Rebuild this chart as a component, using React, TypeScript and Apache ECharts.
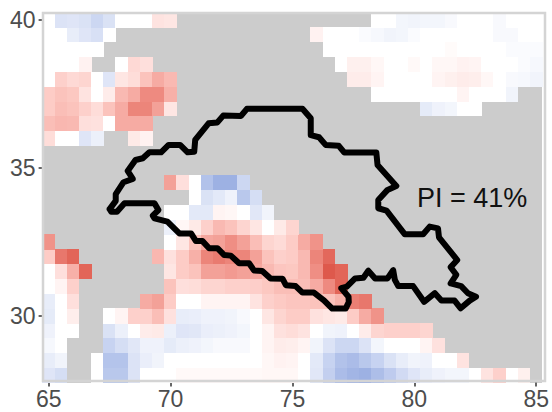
import React, { useEffect, useRef } from "react";
import * as echarts from "echarts";

const N = null;
const N5 = [N, N, N, N, N];

// intensity per cell, one row per latitude; columns run from 65E to 85E in 0.5 degree steps
const lonLabels = ["65","65.5","66","66.5","67","67.5","68","68.5","69","69.5","70","70.5","71","71.5","72","72.5","73","73.5","74","74.5","75","75.5","76","76.5","77","77.5","78","78.5","79","79.5","80","80.5","81","81.5","82","82.5","83","83.5","84","84.5","85"];
const latLabels = ["28","28.5","29","29.5","30","30.5","31","31.5","32","32.5","33","33.5","34","34.5","35","35.5","36","36.5","37","37.5","38","38.5","39","39.5","40"];

const lat40 = [0,-15,-14,-16,-22, -16,0,0,0,13, 12,N,N,N,N, ...N5, ...N5, N,N,0,0,-5, -6,-5,-5,-3,0, 0,0,-3,0,0, 0];
const lat39_5 = [0,0,-10,-14,-17, 0,N,N,N,N, ...N5, ...N5, N,N,6,0,0, 0,-2,-4,-6,-5, -2,0,0,0,0, 0,0,-3,-3,0, 0];
const lat39 = [0,0,0,0,0, ...N5, ...N5, ...N5, N,N,N,0,0, 0,0,0,0,0, 0,0,0,2,0, 0,0,0,-2,-2, -2];
const lat38_5 = [0,0,0,6,N, N,0,18,15,N, ...N5, ...N5, N,N,N,N,0, 7,7,4,0,0, 3,0,4,4,6, 5,0,0,0,-2, -4];
const lat38 = [0,22,18,20,0, -14,12,16,28,38, 32,N,N,N,N, ...N5, ...N5, 9,9,5,0,0, 0,0,5,7,9, 8,4,0,-3,-4, -6];
const lat37_5 = [24,28,26,13,0, 9,32,38,52,52, 36,N,N,N,N, ...N5, ...N5, N,N,0,0,0, 0,0,0,0,5, 0,0,0,-6];
const lat37 = [24,30,28,22,16, 28,38,55,55,42, 12,N,N,N,N, ...N5, ...N5, ...N5, N,-11,-7,-5,0, 0];
const lat36_5 = [30,33,32,15,14, 0,38,38,38];
const lat36 = [16,0,0,-14,-8, N,N,10,6];
const lat35_5: (number | null)[] = [];
const lat35: (number | null)[] = [];
const lat34_5 = [...N5, ...N5, 42,15,0,-33,-42, -42,-22];
const lat34 = [...N5, ...N5, N,N,0,-16,-12, -7,-30,-18];
const lat33_5 = [...N5, ...N5, 0,0,-12,-12,5, 4,0,-13,-6];
const lat33 = [...N5, ...N5, -8,4,10,22,32, 28,20,12,0,10, 20];
const lat32_5 = [48,N,N,N,N, ...N5, 0,12,28,40,42, 50,42,30,20,17, 24,38,48];
const lat32 = [24,62,72,N,N, N,N,N,N,33, 14,24,36,55,60, 55,55,42,28,22, 24,32,55,70];
const lat31_5 = [0,15,36,72,N, ...N5, 12,24,28,42,42, 45,42,40,32,27, 26,32,50,78,72];
const lat31 = [0,5,22,N,N, ...N5, 28,15,16,20,20, 22,22,23,26,30, 30,30,38,52,72];
const lat30_5 = [-10,0,15,N,N, N,N,N,38,42, 24,0,0,5,5, 5,5,13,22,25, 27,27,28,28,35, 58,62];
const lat30 = [-11,0,8,N,N, 0,5,22,22,30, 14,-10,-9,-7,-7, -6,-3,0,12,20, 24,24,14,12,10, 24,38,48];
const lat29_5 = [-7,0,0,N,N, -16,-8,0,9,10, -8,-14,-13,-9,-8, -7,-5,0,5,14, 16,13,0,-6,-7, 0,9,20,22,22, 22,20];
const lat29 = [-4,0,N,N,N, -24,-18,-13,-7,-7, -11,-8,-7,-5,-3, -3,-3,0,5,9, 8,5,-6,-15,-22, -22,-15,-5,0,0, 0,5,14];
const lat28_5 = [-10,-6,N,N,0, -32,-32,-15,-9,-6, 0,0,0,0,0, 0,0,0,4,6, 5,0,-12,-24,-33, -36,-30,-24,-16,-10, -6,-7,0,0,13];
const lat28 = [-14,-18,N,N,0, -30,-30,-15,0,0, 0,3,3,3,3, 3,3,3,4,4, 4,0,-13,-26,-36, -40,-42,-35,-28,-20, -14,-10,-7,-5,-5, 0,13,22,0,7];

const rows = [lat28, lat28_5, lat29, lat29_5, lat30, lat30_5, lat31, lat31_5, lat32, lat32_5, lat33, lat33_5, lat34, lat34_5, lat35, lat35_5, lat36, lat36_5, lat37, lat37_5, lat38, lat38_5, lat39, lat39_5, lat40];

// boundary outline, [lon, lat]
const boundary = [
  [67.5,33.61],[67.75,33.89],[67.75,34.12],[68.07,34.52],[68.45,34.63],[68.24,34.9],[68.56,35.27],[68.86,35.33],[69.13,35.53],[69.61,35.53],
  [69.92,35.78],[70.39,35.78],[70.7,35.53],[70.97,35.55],[71.01,35.95],[71.56,36.51],[71.92,36.54],[72.16,36.77],[72.89,36.76],[73.13,37],
  [75.41,37],[75.75,36.68],[75.75,36.11],[76.09,36.04],[76.36,35.78],[76.9,35.75],[77.13,35.52],[78.44,35.52],[78.49,35.1],[79.26,34.39],
  [78.9,34.26],[78.52,33.92],[78.52,33.64],[78.86,33.56],[79.61,32.76],[80.36,32.76],[80.63,33.02],[80.97,32.96],[81.01,32.66],[81.76,31.89],
  [81.49,31.65],[81.72,31.39],[81.49,31.1],[81.92,31.01],[82.2,30.77],[82.53,30.65],[82.27,30.52],[81.9,30.26],[81.65,30.52],[81.11,30.52],
  [80.84,30.77],[80.4,30.48],[79.95,31.01],[79.34,31.01],[79.2,31.22],[79.13,31.55],[78.9,31.27],[78.39,31.27],[78.11,31.53],[77.91,31.29],
  [77.57,31.27],[77.23,30.99],[77,30.94],[77.3,30.65],[77.31,30.47],[77.18,30.25],[76.63,30.25],[76.29,30.53],[75.88,30.79],[75.41,30.79],
  [75.13,31.01],[74.73,31.04],[74.59,31.26],[74.1,31.27],[73.76,31.52],[73.42,31.54],[73.22,31.78],[72.81,31.78],[72.47,32.04],[72.2,32.06],
  [71.92,32.29],[71.58,32.29],[71.31,32.53],[71.04,32.53],[70.84,32.79],[70.36,32.79],[69.87,33.19],[69.34,33.3],[69.27,33.39],[69.5,33.58],
  [69.34,33.81],[68.11,33.81],[67.8,33.52],[67.57,33.52],[67.5,33.61],
];

const annotation = "PI = 41%";

const rampColors = ["#2c55b8", "#5a7bcb", "#8aa2dd", "#c5d1f0", "#ffffff", "#fdcac4", "#ef8e84", "#e05f52", "#cc2f20"];
const labelColor = "#4d4d4d";
const fontFamily = "'Liberation Sans', Arial, sans-serif";

export default function App() {
  const ref = useRef<HTMLDivElement>(null);
  useEffect(() => {
    const chart = echarts.init(ref.current!, null, { renderer: "svg" });
    const cells: [number, number, number][] = [];
    rows.forEach((row, y) => row.forEach((v, x) => { if (v !== null && v !== undefined) cells.push([x, y, v]); }));
    const showLon = (i: number) => i % 10 === 0;
    const showLat = (i: number) => (i + 6) % 10 === 0 && i >= 4;
    const gridBox = { left: 42.6, top: 12.6, width: 502.2, height: 370 };
    chart.setOption({
      animation: false,
      grid: { ...gridBox, show: true, backgroundColor: "#cccccc", borderWidth: 0 },
      visualMap: {
        show: false, min: -100, max: 100, seriesIndex: 0, dimension: 2,
        inRange: { color: rampColors },
      },
      xAxis: [
        {
          type: "category", data: lonLabels, position: "bottom",
          axisLine: { show: false },
          axisTick: { show: true, interval: showLon, alignWithLabel: true, length: 4, lineStyle: { color: "#333333", width: 1.5 } },
          axisLabel: { interval: showLon, color: labelColor, fontSize: 23, fontFamily, margin: 5 },
          splitLine: { show: false },
        },
        { type: "value", min: 64.75, max: 85.25, show: false, splitLine: { show: false } },
      ],
      yAxis: [
        {
          type: "category", data: latLabels, position: "left",
          axisLine: { show: false },
          axisTick: { show: true, interval: showLat, alignWithLabel: true, length: 4, lineStyle: { color: "#333333", width: 1.5 } },
          axisLabel: { interval: showLat, color: labelColor, fontSize: 23, fontFamily, margin: 7 },
          splitLine: { show: false },
        },
        { type: "value", min: 27.75, max: 40.25, show: false, splitLine: { show: false } },
      ],
      series: [
        { type: "heatmap", data: cells, xAxisIndex: 0, yAxisIndex: 0, itemStyle: { borderWidth: 0 }, emphasis: { disabled: true } },
        {
          type: "line", data: boundary, xAxisIndex: 1, yAxisIndex: 1, showSymbol: false, symbol: "none", z: 5,
          lineStyle: { color: "#000000", width: 6, join: "round", cap: "round" },
        },
      ],
      graphic: [
        {
          type: "rect", z: 20, silent: true,
          shape: { x: 43, y: 13, width: 502, height: 368 },
          style: { fill: "none", stroke: "#d4d4d4", lineWidth: 2.5 },
        },
        {
          type: "text", z: 20, silent: true, x: 417, y: 184,
          style: { text: annotation, fontSize: 27, fontFamily, fill: "#111111" },
        },
      ],
    });
    return () => chart.dispose();
  }, []);
  return (
    <>
      <style>{`svg path:not([fill="none"]) { shape-rendering: crispEdges; }`}</style>
      <div ref={ref} style={{ position: "absolute", left: 0, top: 0, width: 552, height: 412 }} />
    </>
  );
}
